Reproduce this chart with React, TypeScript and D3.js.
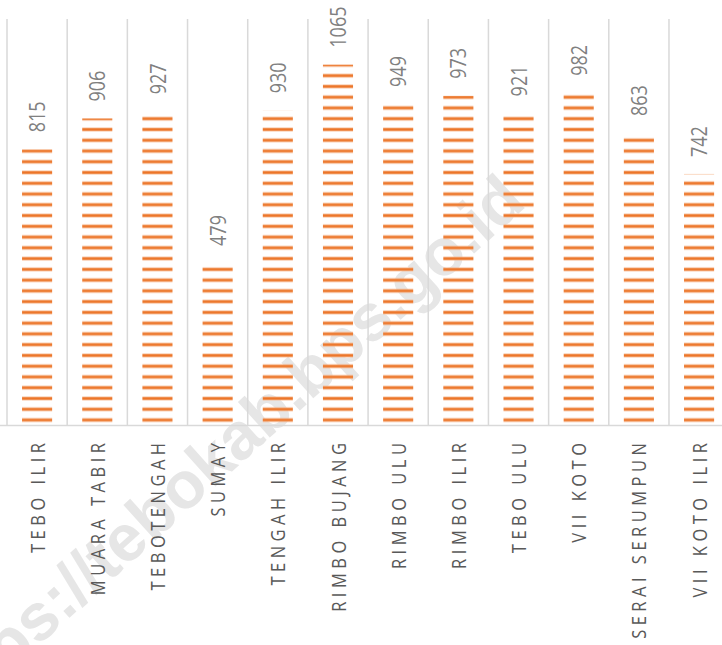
import React from "react";
import * as d3 from "d3";

const categories = [
  "TEBO ILIR",
  "MUARA TABIR",
  "TEBOTENGAH",
  "SUMAY",
  "TENGAH ILIR",
  "RIMBO BUJANG",
  "RIMBO ULU",
  "RIMBO ILIR",
  "TEBO ULU",
  "VII KOTO",
  "SERAI SERUMPUN",
  "VII KOTO ILIR",
];
const values = [815, 906, 927, 479, 930, 1065, 949, 973, 921, 982, 863, 742];
const axisMax = 1200;
const watermark = "https://tebokab.bps.go.id";

const W = 722;
const H = 645;
const left = 7;
const band = 60.18;
const base = 425;
const top = 19;
const P = 10.76;
const stripeAnchor = 420;

export default function App() {
  const x = d3
    .scaleBand<string>()
    .domain(categories)
    .range([left, left + band * categories.length])
    .paddingInner(0)
    .paddingOuter(0);
  const y = d3.scaleLinear().domain([0, axisMax]).range([base, top]);
  const bw = x.bandwidth() * 0.5;
  const grid = categories.map((c) => x(c) as number).concat([x.range()[1]]);

  const catFont = 16.5;
  const ls = 4.5;

  return (
    <svg
      width={W}
      height={H}
      style={{ position: "absolute", left: 0, top: 0, background: "#fff" }}
      fontFamily="'Open Sans', sans-serif"
    >
      <defs>
        <pattern
          id="stripes"
          patternUnits="userSpaceOnUse"
          x={0}
          y={stripeAnchor + P / 2}
          width={W}
          height={P}
        >
          <rect x={0} y={P / 2 - 1.9} width={W} height={3.8} fill="#F5B58A" />
          <rect x={0} y={P / 2 - 1.1} width={W} height={2.2} fill="#EC7528" />
        </pattern>
      </defs>
      <rect x={0} y={0} width={W} height={H} fill="#fff" />
      <text
        transform={`translate(528,205) rotate(-42)`}
        textAnchor="end"
        fontFamily="'Liberation Sans', Arial, sans-serif"
        fontWeight="bold"
        fontSize={66}
        fill="#e6e6e6"
      >
        {watermark}
      </text>
      {grid.map((gx, i) => (
        <line
          key={"g" + i}
          x1={gx}
          x2={gx}
          y1={top}
          y2={base}
          stroke="#d9d9d9"
          strokeWidth={1.5}
        />
      ))}
      <line x1={0} x2={W} y1={base + 0.5} y2={base + 0.5} stroke="#d9d9d9" strokeWidth={1.5} />
      {categories.map((c, i) => {
        const cx = (x(c) as number) + x.bandwidth() / 2;
        return (
          <g key={c}>
            <rect
              x={cx - bw / 2}
              y={y(values[i])}
              width={bw}
              height={base - y(values[i])}
              fill="url(#stripes)"
            />
            <text
              transform={`translate(${cx},${y(values[i]) - 17}) scale(1.2,1) rotate(-90)`}
              textAnchor="start"
              dominantBaseline="central"
              fontSize={18}
              fill="#808080"
            >
              {values[i]}
            </text>
            <text
              transform={`translate(${cx},${443 - ls}) scale(1.2,1) rotate(-90)`}
              textAnchor="end"
              dominantBaseline="central"
              fontSize={catFont}
              letterSpacing={ls}
              fill="#595959"
            >
              {c}
            </text>
          </g>
        );
      })}
    </svg>
  );
}
